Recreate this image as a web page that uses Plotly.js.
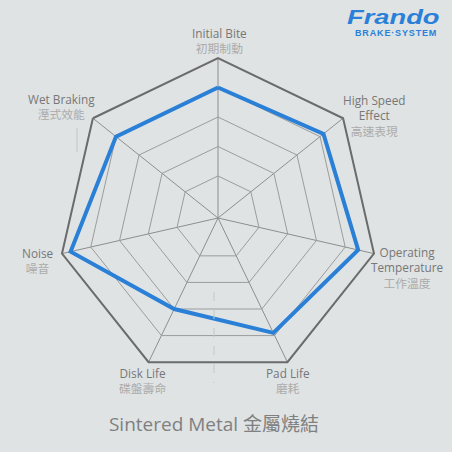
<!DOCTYPE html>
<html>
<head>
<meta charset="utf-8">
<script src="https://cdn.plot.ly/plotly-3.0.1.min.js"></script>
<style>
  html, body { margin: 0; padding: 0; background: #dfe3e4; }
  #wrap { position: relative; width: 452px; height: 452px; }
  #chart { width: 452px; height: 452px; }
  .brand { position: absolute; color: #2a80d8; font-family: "Liberation Sans", Arial, sans-serif;
           white-space: nowrap; transform-origin: left top; }
  #brandName { left: 347px; top: 9px; font-size: 21px; font-weight: bold; font-style: italic;
               line-height: 15px; transform: scaleX(1.3); }
  #brandSub { left: 355px; top: 30px; font-size: 9px; font-weight: bold; letter-spacing: 0.85px;
              line-height: 7px; }
</style>
</head>
<body>
<div id="wrap">
  <div id="chart"></div>
  <div id="brandName" class="brand">Frando</div>
  <div id="brandSub" class="brand">BRAKE·SYSTEM</div>
</div>
<script>
// Performance attributes, clockwise from the top
const categories = ["Initial Bite", "High Speed Effect", "Operating Temperature",
                    "Pad Life", "Disk Life", "Noise", "Wet Braking"];
const categoriesZh = ["初期制動", "高速表現", "工作溫度", "磨耗", "碟盤壽命", "噪音", "溼式效能"];
// Display names (English lines + Chinese line)
const labelLines = [["Initial Bite"], ["High Speed", "Effect"], ["Operating", "Temperature"],
                    ["Pad Life"], ["Disk Life"], ["Noise"], ["Wet Braking"]];
// Rating of the sintered metal compound on a 1-5 scale
const ratings = [4.0, 4.15, 4.45, 3.9, 3.0, 4.7, 4.0];
const ringValues = [1, 2, 3, 4, 5];
const chartTitle = "Sintered Metal 金屬燒結";

// Label block centres in pixels
const labelPos = [[219, 41], [374, 116], [407, 267], [288, 380], [142, 380], [38, 260], [62, 107]];

const W = 452, H = 452;
const cx = 218, cy = 218, R = 160;
const px = (x) => x / W;
const py = (y) => 1 - y / H;

const theta = categories.concat([categories[0]]);
const r = ratings.concat([ratings[0]]);

const trace = {
  type: "scatterpolar",
  mode: "lines",
  r: r,
  theta: theta,
  line: { color: "#2a7fd6", width: 4, shape: "linear" },
  hoverinfo: "skip",
  showlegend: false
};

const annotations = categories.map((c, i) => ({
  xref: "paper", yref: "paper",
  x: px(labelPos[i][0]), y: py(labelPos[i][1]),
  xanchor: "center", yanchor: "middle",
  showarrow: false,
  align: "center",
  text: labelLines[i].join("<br>") + "<br><span style='color:#ababab'>" + categoriesZh[i] + "</span>",
  font: { family: "Open Sans, Noto Sans CJK TC, sans-serif", size: 11.8, color: "#777777" }
}));

// faint guide strokes in the backdrop
const shapes = [
  { type: "line", xref: "paper", yref: "paper", x0: px(214), x1: px(214), y0: py(292), y1: py(383),
    line: { color: "#c3c7c8", width: 1, dash: "dash" } },
  { type: "line", xref: "paper", yref: "paper", x0: px(77), x1: px(77), y0: py(128), y1: py(152),
    line: { color: "#c3c7c8", width: 1 } }
];

const layout = {
  width: W, height: H,
  margin: { l: 0, r: 0, t: 0, b: 0 },
  paper_bgcolor: "#dfe3e4",
  plot_bgcolor: "#dfe3e4",
  title: {
    text: chartTitle,
    x: px(214), xanchor: "center",
    y: py(424), yanchor: "middle",
    font: { family: "Open Sans, Noto Sans CJK TC, sans-serif", size: 19, color: "#808080" }
  },
  polar: {
    domain: { x: [px(cx - R), px(cx + R)], y: [py(cy + R), py(cy - R)] },
    bgcolor: "rgba(0,0,0,0)",
    gridshape: "linear",
    radialaxis: {
      range: [-0.424, 5],
      tickvals: ringValues,
      showticklabels: false,
      ticks: "",
      showline: false,
      gridcolor: "#9c9c9c",
      gridwidth: 1
    },
    angularaxis: {
      type: "category",
      categoryarray: categories,
      direction: "clockwise",
      rotation: 90,
      showticklabels: false,
      ticks: "",
      showline: true,
      linecolor: "#6b6b6b",
      linewidth: 2,
      gridcolor: "#8e8e8e",
      gridwidth: 1
    }
  },
  shapes: shapes,
  annotations: annotations
};

Plotly.newPlot("chart", [trace], layout, { displayModeBar: false, staticPlot: true });
</script>
</body>
</html>
